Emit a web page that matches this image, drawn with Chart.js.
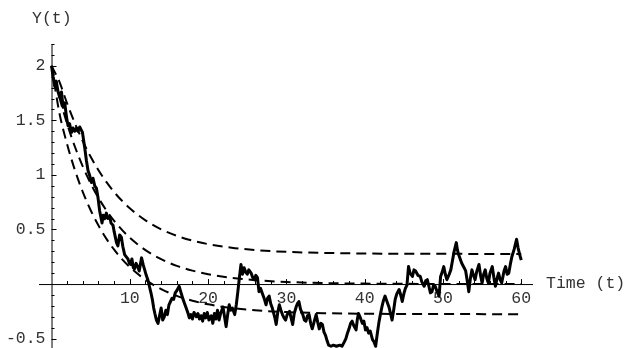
<!DOCTYPE html>
<html>
<head>
<meta charset="utf-8">
<title>Y(t)</title>
<script src="https://cdn.jsdelivr.net/npm/chart.js@4/dist/chart.umd.min.js"></script>
<style>
  html, body { margin: 0; padding: 0; background: #fff; }
  #wrap { width: 627px; height: 348px; }
</style>
</head>
<body>
<div id="wrap"><canvas id="c" width="627" height="348"></canvas></div>
<script>
// Simulated path Y(t)
const pathT = [
  0.0, 0.2, 0.42, 0.6, 0.84, 1.06, 1.27, 1.48, 1.69, 1.91, 2.11, 2.3, 2.55, 2.75, 2.97, 3.2, 3.39, 3.6, 3.95,
  4.24, 4.46, 4.66, 4.85, 5.1, 5.3, 5.52, 5.73, 5.94, 6.15, 6.45, 6.6, 6.8, 7.0, 7.2, 7.43, 7.6, 7.85,
  8.0, 8.15, 8.3, 8.48, 8.7, 8.92, 9.12, 9.34, 9.55, 9.76, 9.95, 10.1, 10.27, 10.45, 10.6, 10.8, 11.0,
  11.2, 11.5, 11.7, 11.9, 12.1, 12.3, 12.5, 12.7, 12.9, 13.05, 13.2, 13.4, 13.6, 13.8, 14.0, 14.2, 14.4,
  14.6, 14.8, 15.0, 15.2, 15.4, 15.6, 15.8, 16.0, 16.3, 16.5, 16.8, 17.0, 17.2, 17.4, 17.6, 17.8, 18.0,
  18.2, 18.5, 18.7, 18.9, 19.1, 19.3, 19.5, 19.7, 19.9, 20.1, 20.4, 20.6, 20.8, 21.0, 21.2, 21.4, 21.6,
  21.9, 22.1, 22.3, 22.5, 22.7, 22.9, 23.1, 23.4, 23.6, 23.8, 24.0, 24.2, 24.4, 24.6, 24.8, 25.0, 25.2,
  25.5, 25.7, 25.9, 26.1, 26.3, 26.5, 26.7, 27.0, 27.2, 27.4, 27.6, 27.8, 28.0, 28.2, 28.5, 28.7, 28.9,
  29.1, 29.3, 29.5, 29.7, 29.9, 30.1, 30.4, 30.6, 30.8, 31.0, 31.2, 31.4, 31.6, 31.8, 32.1, 32.3, 32.5,
  32.7, 32.9, 33.1, 33.3, 33.6, 33.8, 34.0, 34.2, 34.4, 34.6, 34.8, 35.0, 35.2, 35.4, 35.7, 36.0, 36.4,
  36.8, 37.1, 37.4, 37.6, 37.8, 38.0, 38.2, 38.4, 38.6, 38.9, 39.05, 39.2, 39.4, 39.7, 39.9, 40.1, 40.3,
  40.5, 40.7, 41.0, 41.2, 41.4, 41.6, 41.8, 42.0, 42.2, 42.4, 42.6, 42.8, 43.1, 43.3, 43.5, 43.7, 43.9,
  44.1, 44.4, 44.6, 44.8, 45.0, 45.2, 45.4, 45.6, 45.8, 46.1, 46.3, 46.5, 46.8, 47.1, 47.3, 47.6, 47.8,
  48.0, 48.2, 48.4, 48.6, 48.8, 49.0, 49.2, 49.5, 49.7, 49.9, 50.1, 50.3, 50.5, 50.8, 51.0, 51.2, 51.4,
  51.7, 51.85, 52.0, 52.2, 52.4, 52.7, 52.9, 53.1, 53.3, 53.5, 53.7, 53.9, 54.1, 54.3, 54.6, 54.8, 55.0,
  55.2, 55.4, 55.6, 55.8, 56.0, 56.3, 56.5, 56.7, 56.9, 57.1, 57.3, 57.5, 57.8, 58.0, 58.2, 58.4, 58.6,
  58.8, 59.1, 59.4, 59.6, 59.8, 60.0
];
const pathY = [
  2.00, 1.90, 1.81, 1.86, 1.76, 1.71, 1.76, 1.62, 1.66, 1.53, 1.45, 1.47, 1.39, 1.43, 1.40, 1.43, 1.40, 1.44, 1.39,
  1.25, 1.13, 1.04, 1.00, 0.93, 0.97, 0.90, 0.88, 0.79, 0.67, 0.56, 0.63, 0.60, 0.65, 0.60, 0.62, 0.56, 0.54,
  0.48, 0.43, 0.38, 0.35, 0.45, 0.43, 0.34, 0.27, 0.25, 0.23, 0.19, 0.18, 0.23, 0.15, 0.14, 0.19, 0.16,
  0.12, 0.24, 0.18, 0.13, 0.08, 0.04, -0.02, -0.08, -0.15, -0.22, -0.27, -0.33, -0.36, -0.29, -0.22, -0.33, -0.30,
  -0.24, -0.28, -0.19, -0.16, -0.13, -0.14, -0.08, -0.06, -0.02, -0.07, -0.14, -0.18, -0.22, -0.26, -0.31, -0.28, -0.32,
  -0.26, -0.30, -0.27, -0.32, -0.29, -0.34, -0.27, -0.31, -0.26, -0.33, -0.29, -0.36, -0.27, -0.32, -0.24, -0.33, -0.27,
  -0.21, -0.30, -0.39, -0.28, -0.19, -0.24, -0.22, -0.28, -0.19, -0.07, 0.06, 0.18, 0.09, 0.15, 0.11, 0.09, 0.13,
  0.10, 0.06, 0.04, 0.08, 0.06, -0.07, -0.04, -0.10, -0.14, -0.19, -0.13, -0.11, -0.18, -0.22, -0.30, -0.37, -0.26,
  -0.19, -0.24, -0.28, -0.31, -0.33, -0.28, -0.25, -0.31, -0.37, -0.27, -0.22, -0.18, -0.16, -0.23, -0.28, -0.33, -0.34,
  -0.29, -0.28, -0.36, -0.41, -0.33, -0.28, -0.35, -0.41, -0.36, -0.37, -0.44, -0.47, -0.52, -0.56, -0.57, -0.56, -0.57,
  -0.56, -0.57, -0.53, -0.50, -0.45, -0.41, -0.36, -0.34, -0.38, -0.42, -0.33, -0.27, -0.30, -0.36, -0.34, -0.42, -0.40,
  -0.45, -0.43, -0.51, -0.53, -0.57, -0.46, -0.36, -0.28, -0.21, -0.15, -0.11, -0.15, -0.21, -0.27, -0.33, -0.24, -0.14,
  -0.09, -0.05, -0.10, -0.16, -0.09, -0.04, -0.01, 0.16, 0.10, 0.07, 0.13, 0.12, 0.08, 0.07, 0.02, -0.02, 0.03,
  0.04, -0.02, -0.08, -0.07, -0.01, -0.02, -0.06, -0.11, 0.07, 0.11, 0.16, 0.09, 0.04, 0.09, 0.13, 0.21, 0.29,
  0.38, 0.31, 0.27, 0.23, 0.19, 0.15, 0.12, 0.03, -0.07, 0.05, 0.13, 0.08, 0.04, 0.11, 0.18, 0.08, 0.01,
  0.09, 0.13, 0.05, 0.01, 0.10, 0.16, 0.06, -0.02, 0.05, 0.10, 0.04, 0.01, 0.12, 0.16, 0.09, 0.10, 0.18,
  0.25, 0.32, 0.41, 0.33, 0.27, 0.22
];

// Mean curve and the two spread curves around it (dashed)
const bandT  = [0, 1, 2, 3, 4, 5, 6, 7, 8, 9, 10, 12, 14, 16, 18, 20, 23, 26, 30, 35, 40, 45, 50, 60];
const upperY = [2, 1.855, 1.654, 1.471, 1.309, 1.166, 1.043, 0.936, 0.843, 0.763, 0.694, 0.584, 0.502, 0.442, 0.398, 0.366, 0.333, 0.312, 0.295, 0.285, 0.280, 0.278, 0.277, 0.276];
const meanY  = [2, 1.713, 1.467, 1.256, 1.076, 0.921, 0.789, 0.676, 0.579, 0.496, 0.424, 0.311, 0.228, 0.167, 0.123, 0.090, 0.057, 0.036, 0.019, 0.009, 0.004, 0.002, 0.001, 0.000];
const lowerY = [2, 1.570, 1.279, 1.041, 0.843, 0.676, 0.536, 0.416, 0.315, 0.228, 0.155, 0.039, -0.046, -0.108, -0.153, -0.186, -0.219, -0.240, -0.257, -0.267, -0.272, -0.274, -0.275, -0.276];

// Axis ticks and labels
const xTickLabels = [10, 20, 30, 40, 50, 60];
const yTickLabels = [-0.5, 0.5, 1, 1.5, 2];
const xMinorStep = 2;
const yMinorStep = 0.1;
const xTitle = 'Time (t)';
const yTitle = 'Y(t)';

const pts = (xs, ys) => xs.map((x, i) => ({ x: x, y: ys[i] }));
const FONT = '16.5px "Liberation Mono", "Courier New", monospace';

const dashed = (ys) => ({
  data: pts(bandT, ys),
  borderColor: '#000',
  borderWidth: 2,
  borderDash: [10, 6],
  cubicInterpolationMode: 'monotone',
  pointRadius: 0,
  fill: false
});

// Axes crossing at the origin, ticks pointing inward, Courier-style labels
const originAxes = {
  id: 'originAxes',
  beforeDatasetsDraw(chart) {
    const { ctx, scales: { x, y } } = chart;
    const x0 = x.getPixelForValue(0);
    const y0 = y.getPixelForValue(0);
    ctx.save();
    ctx.strokeStyle = '#000';
    ctx.lineWidth = 1;
    ctx.beginPath();
    ctx.moveTo(x.left, y0 + 0.5); ctx.lineTo(x.right, y0 + 0.5);
    ctx.moveTo(x0 + 0.5, y.top); ctx.lineTo(x0 + 0.5, y.bottom);
    ctx.stroke();

    ctx.beginPath();
    for (let v = xMinorStep; v <= x.max; v += xMinorStep) {
      const px = Math.round(x.getPixelForValue(v)) + 0.5;
      const major = Math.abs(v % 10) < 1e-6;
      ctx.moveTo(px, y0); ctx.lineTo(px, y0 - (major ? 5 : 3));
    }
    for (let k = Math.ceil(y.min / yMinorStep); k * yMinorStep <= y.max + 1e-9; k++) {
      if (k === 0) continue;
      const v = k * yMinorStep;
      const py = Math.round(y.getPixelForValue(v)) + 0.5;
      const major = k % 5 === 0;
      ctx.moveTo(x0, py); ctx.lineTo(x0 + (major ? 5 : 3), py);
    }
    ctx.stroke();

    ctx.fillStyle = '#333';
    ctx.font = FONT;
    ctx.textAlign = 'center';
    ctx.textBaseline = 'top';
    xTickLabels.forEach(v => ctx.fillText(String(v), x.getPixelForValue(v), y0 + 6));
    ctx.textAlign = 'right';
    ctx.textBaseline = 'middle';
    yTickLabels.forEach(v => ctx.fillText(String(v), x0 - 6, y.getPixelForValue(v)));
    ctx.textAlign = 'left';
    ctx.fillText(xTitle, x.right + 13, y0);
    ctx.fillText(yTitle, 32, 19);
    ctx.restore();
  }
};

new Chart(document.getElementById('c'), {
  type: 'line',
  data: {
    datasets: [
      { data: pts(pathT, pathY), borderColor: '#000', borderWidth: 3, tension: 0, pointRadius: 0, fill: false, borderJoinStyle: 'round' },
      dashed(upperY),
      dashed(meanY),
      dashed(lowerY)
    ]
  },
  options: {
    responsive: false,
    animation: false,
    events: [],
    layout: { padding: { left: 39, right: 94, top: 44, bottom: 0 } },
    plugins: { legend: { display: false }, tooltip: { enabled: false } },
    scales: {
      x: { type: 'linear', min: -1.6, max: 61.5, display: false },
      y: { type: 'linear', min: -0.586, max: 2.2, display: false }
    }
  },
  plugins: [originAxes]
});
</script>
</body>
</html>
